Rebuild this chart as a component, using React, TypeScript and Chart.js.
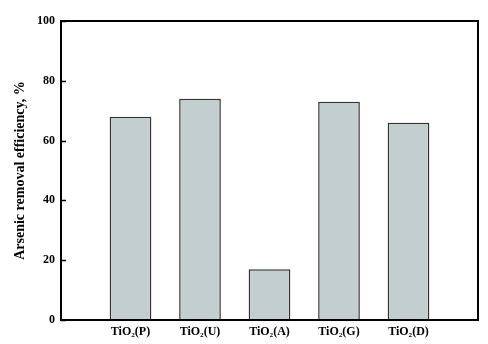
import React, { useEffect, useRef } from "react";
import { Chart, registerables } from "chart.js";

Chart.register(...registerables);

const categories = ["", "TiO₂(P)", "TiO₂(U)", "TiO₂(A)", "TiO₂(G)", "TiO₂(D)", ""];
const removalEfficiency = [null, 68, 74, 17, 73, 66, null];
const yTicks = [0, 20, 40, 60, 80, 100];
const yTitle = "Arsenic removal efficiency, %";

const FONT = "'Liberation Serif', 'Times New Roman', serif";

const framePlugin = {
  id: "frame",
  afterDraw(chart: any) {
    const { ctx, chartArea } = chart;
    const y = chart.scales.y;
    ctx.save();
    ctx.strokeStyle = "#000";
    ctx.lineWidth = 2;
    ctx.strokeRect(chartArea.left, chartArea.top, chartArea.right - chartArea.left, chartArea.bottom - chartArea.top);
    ctx.lineWidth = 1.5;
    for (const v of yTicks) {
      const py = Math.round(y.getPixelForValue(v)) + 0.5;
      ctx.beginPath();
      ctx.moveTo(chartArea.left, py);
      ctx.lineTo(chartArea.left + 5, py);
      ctx.stroke();
    }
    ctx.restore();
  },
};

export default function App() {
  const ref = useRef<HTMLCanvasElement>(null);
  useEffect(() => {
    const chart = new Chart(ref.current!, {
      type: "bar",
      data: {
        labels: categories,
        datasets: [
          {
            data: removalEfficiency as any,
            backgroundColor: "#c3cfcf",
            borderColor: "#333",
            borderWidth: 1.5,
            categoryPercentage: 1,
            barPercentage: 0.6,
          },
        ],
      },
      options: {
        responsive: false,
        animation: false,
        layout: { padding: { top: 21, right: 10, left: 0, bottom: 0 } },
        plugins: { legend: { display: false }, tooltip: { enabled: false } },
        scales: {
          x: {
            offset: false,
            grid: { display: false, drawTicks: false },
            border: { display: false },
            afterFit: (s: any) => { s.height = 24; },
            ticks: {
              padding: 5,
              color: "#000",
              font: { family: FONT, size: 12, weight: "bold" },
              maxRotation: 0,
              autoSkip: false,
            },
          },
          y: {
            min: 0,
            max: 100,
            grid: { display: false, drawTicks: false },
            border: { display: false },
            afterFit: (s: any) => { s.width = 61; },
            afterBuildTicks: (s: any) => { s.ticks = yTicks.map((v) => ({ value: v })); },
            ticks: {
              padding: 6,
              color: "#000",
              font: { family: FONT, size: 12, weight: "bold" },
            },
            title: {
              display: true,
              text: yTitle,
              color: "#000",
              font: { family: FONT, size: 14, weight: "bold" },
              padding: { top: 12, bottom: 0 },
            },
          },
        },
      },
      plugins: [framePlugin],
    });
    return () => chart.destroy();
  }, []);
  return (
    <div style={{ position: "fixed", left: 0, top: 0, width: 488, height: 344, background: "#fff" }}>
      <canvas ref={ref} width={488} height={344} />
    </div>
  );
}
